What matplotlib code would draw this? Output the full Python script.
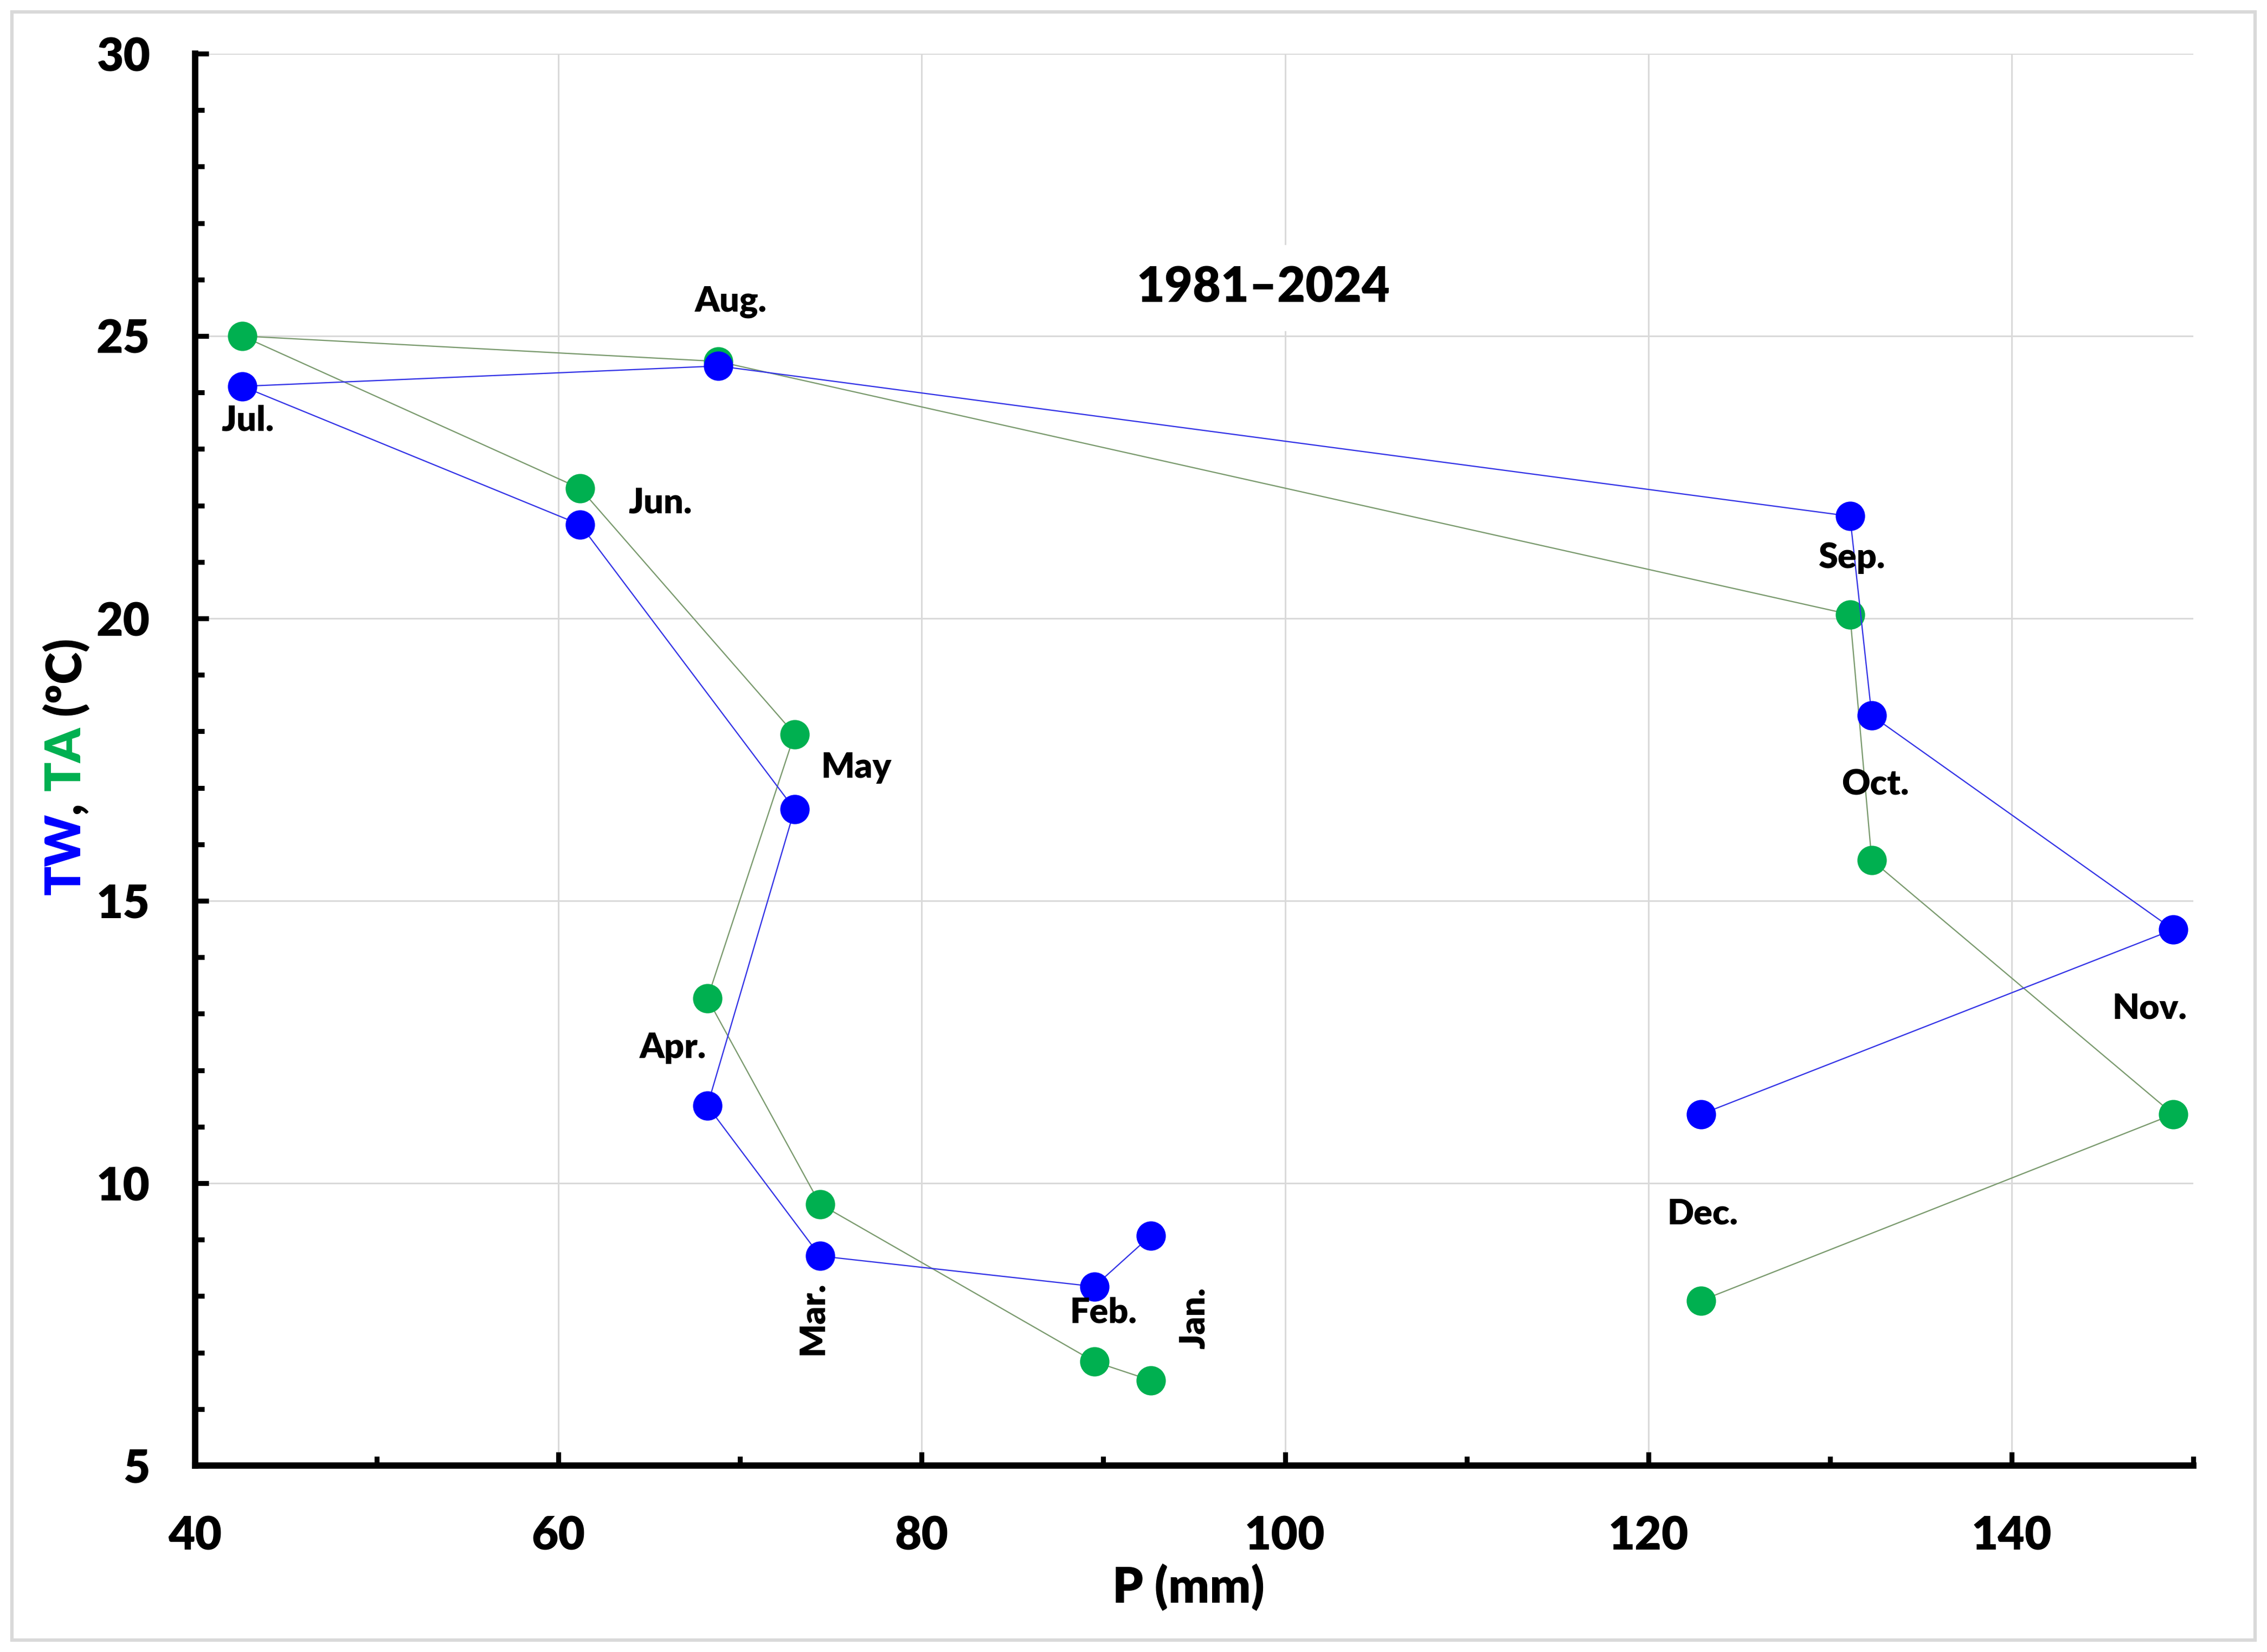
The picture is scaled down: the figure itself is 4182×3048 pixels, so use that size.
import matplotlib
matplotlib.use("Agg")
import matplotlib.pyplot as plt
from matplotlib.ticker import MultipleLocator
from matplotlib.patches import Rectangle

plt.rcParams['font.family'] = ['Lato', 'DejaVu Sans']
plt.rcParams['font.weight'] = 'heavy'

months = ["Jan.", "Feb.", "Mar.", "Apr.", "May", "Jun.", "Jul.", "Aug.", "Sep.", "Oct.", "Nov.", "Dec."]
P_mm = [92.6, 89.5, 74.4, 68.2, 73.0, 61.2, 42.6, 68.8, 131.1, 132.3, 148.9, 122.9]
TW = [9.07, 8.17, 8.71, 11.37, 16.62, 21.66, 24.11, 24.47, 21.81, 18.28, 14.49, 11.22]
TA = [6.51, 6.84, 9.63, 13.27, 17.95, 22.30, 25.00, 24.55, 20.07, 15.72, 11.22, 7.92]

label_x = [95.0, 90.0, 74.0, 66.3, 76.4, 65.6, 42.9, 69.5, 131.2, 132.5, 147.6, 123.0]
label_y = [7.61, 7.71, 7.61, 12.39, 17.36, 22.04, 23.5, 25.6, 21.07, 17.05, 13.09, 9.45]
label_rot = [90, 0, 90, 0, 0, 0, 0, 0, 0, 0, 0, 0]

title_text = "1981\u20132024"
WT = 'heavy'

W, H, DPI = 4182, 3048, 300
fig = plt.figure(figsize=(W / DPI, H / DPI), dpi=DPI)
fig.patch.set_facecolor('white')
fig.patches.append(Rectangle((22 / W, 22 / H), 1 - 44 / W, 1 - 44 / H, transform=fig.transFigure,
                             fill=False, edgecolor='#d9d9d9', linewidth=1.5))

ax = fig.add_axes([360 / W, 1 - 2704 / H, (4046 - 360) / W, (2704 - 99) / H])
ax.set_xlim(40, 150)
ax.set_ylim(5, 30)

ax.xaxis.set_major_locator(MultipleLocator(20))
ax.xaxis.set_minor_locator(MultipleLocator(10))
ax.yaxis.set_major_locator(MultipleLocator(5))
ax.yaxis.set_minor_locator(MultipleLocator(1))

ax.grid(True, which='major', color='#d9d9d9', linewidth=0.7)
ax.set_axisbelow(True)

for s in ['top', 'right']:
    ax.spines[s].set_visible(False)
for s in ['left', 'bottom']:
    ax.spines[s].set_linewidth(2.8)
    ax.spines[s].set_color('black')

ax.tick_params(which='both', direction='in', width=2.2, color='black')
ax.tick_params(which='major', length=6)
ax.tick_params(which='minor', length=4)
ax.tick_params(axis='x', which='major', labelsize=20.5, pad=22)
ax.tick_params(axis='y', which='major', labelsize=20.5, pad=20)
for lab in ax.get_xticklabels() + ax.get_yticklabels():
    lab.set_fontweight(WT)

ax.plot(P_mm, TA, color='#7a9a6e', linewidth=0.55, marker='o', markersize=12,
        markerfacecolor='#00b050', markeredgecolor='#00b050', zorder=3)
ax.plot(P_mm, TW, color='#3333e6', linewidth=0.55, marker='o', markersize=12,
        markerfacecolor='#0000ff', markeredgecolor='#0000ff', zorder=4)

for m, lx, ly, r in zip(months, label_x, label_y, label_rot):
    ax.text(lx, ly, m, rotation=r, ha='center', va='center', fontsize=15.5, fontweight=WT, zorder=5)

ax.text(98.8, 25.85, title_text, ha='center', va='center', fontsize=21.5, fontweight=WT,
        bbox=dict(facecolor='white', edgecolor='none', pad=9), zorder=2)

fig.text(2192 / W, 1 - 2928 / H, "P (mm)", ha='center', va='center', fontsize=21.5, fontweight=WT)

# multi-colored rotated y-label
fig.canvas.draw()
renderer = fig.canvas.get_renderer()

def text_len(s):
    t = fig.text(0, 0, s, fontsize=21.5, fontweight=WT)
    w = t.get_window_extent(renderer).width
    t.remove()
    return w

full = "TW, TA (\u00baC)"
L = text_len(full)
pieces = [("TW", '#0000ff', 0.0),
          (",", 'black', text_len("TW")),
          ("TA", '#00b050', text_len("TW, TA") - text_len("TA")),
          ("(\u00baC)", 'black', L - text_len("(\u00baC)"))]
xc_px = 148
yc_px = H - 1413
y_start = yc_px - L / 2
for s, c, off in pieces:
    fig.text(xc_px / W, (y_start + off) / H, s, rotation=90, rotation_mode='anchor',
             ha='left', va='baseline', fontsize=21.5, fontweight=WT, color=c)

fig.savefig("out.png", dpi=DPI, facecolor='white')
